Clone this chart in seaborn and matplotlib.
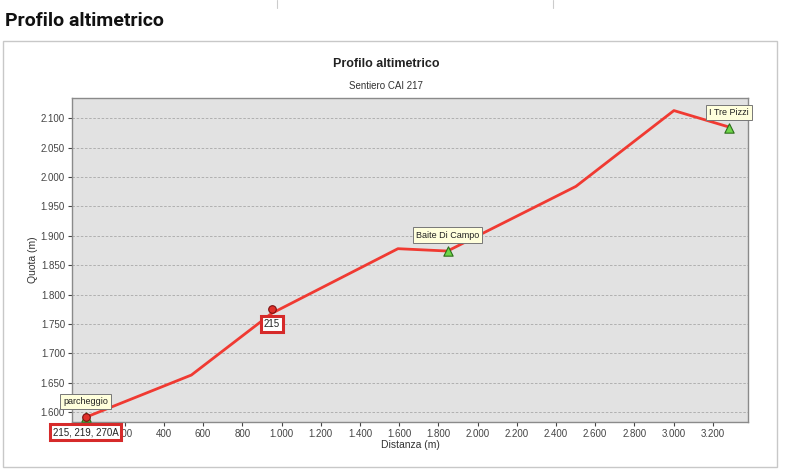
import matplotlib
matplotlib.use("Agg")
import matplotlib.pyplot as plt
import matplotlib.ticker as mticker
from matplotlib.patches import Rectangle
from matplotlib.lines import Line2D
import seaborn as sns
import pandas as pd

# profile (distance m, altitude m)
distanza = [0, 540, 950, 1594, 1720, 1847, 2502, 3002, 3283]
quota = [1591, 1663, 1768, 1878, 1876, 1874, 1984, 2113, 2085]

# waypoints along the trail
wp_nome = ['parcheggio', '215', 'Baite Di Campo', 'I Tre Pizzi']
wp_dist = [0, 950, 1847, 3283]
wp_quota = [1591, 1775, 1874, 2083]
wp_tipo = ['bivio', 'bivio', 'punto', 'punto']

# trail junction labels (shown under the marker)
bivio_label = ['215, 219, 270A', '215']

x_ticks = list(range(0, 3201, 200))
y_ticks = list(range(1600, 2101, 50))

sns.set_theme(style='white')
plt.rcParams['font.family'] = ['Liberation Sans', 'DejaVu Sans']


def thousands(v, pos=None):
    if v == 0:
        return ''  # hidden under the junction tag anyway
    return f'{int(v):,}'.replace(',', '.')


fig = plt.figure(figsize=(8, 4.7), dpi=100)

# page heading and panel frame
fig.text(0.006, 0.955, 'Profilo altimetrico', fontsize=14, fontweight='bold',
         family=['Roboto', 'DejaVu Sans'], color='#111111', va='center')
fig.patches.append(Rectangle((0.004, 0.006), 0.967, 0.906, transform=fig.transFigure,
                             fill=False, edgecolor='#c8c8c8', lw=1, zorder=-1))
for xf in (0.346, 0.691):
    fig.lines.append(Line2D([xf, xf], [0.983, 1.0], transform=fig.transFigure,
                            color='#cccccc', lw=0.8))

fig.text(0.483, 0.863, 'Profilo altimetrico', fontsize=9, fontweight='bold',
         ha='center', va='center', color='#222222')
fig.text(0.483, 0.817, 'Sentiero CAI 217', fontsize=7, ha='center', va='center',
         color='#333333')

ax = fig.add_axes([0.09, 0.102, 0.845, 0.689])
ax.set_facecolor('#e2e2e2')

df = pd.DataFrame({'Distanza': distanza, 'Quota': quota})
sns.lineplot(data=df, x='Distanza', y='Quota', color='#f03a32', lw=2, ax=ax,
             sort=False, zorder=3)

wp = pd.DataFrame({'nome': wp_nome, 'dist': wp_dist, 'quota': wp_quota, 'tipo': wp_tipo})
# green triangles (start point also has one underneath)
tri = pd.concat([wp[wp.tipo == 'punto'], wp.iloc[[0]]])
sns.scatterplot(data=tri, x='dist', y='quota', marker='^', s=45, color='#6fd64a',
                edgecolor='#2c6e1a', linewidth=0.8, ax=ax, zorder=4)
sns.scatterplot(data=wp[wp.tipo == 'bivio'], x='dist', y='quota', marker='o', s=30,
                color='#e0302a', edgecolor='#7a1010', linewidth=0.8, ax=ax, zorder=5)

# yellow name tags above
for n, xv, yv in zip(wp_nome, wp_dist, wp_quota):
    if n == '215':
        continue
    ax.annotate(n, (xv, yv), xytext=(0, 16), textcoords='offset pixels',
                ha='center', va='center', fontsize=6.5, color='#222222', zorder=6,
                bbox=dict(boxstyle='square,pad=0.35', fc='#ffffdc', ec='#777777', lw=0.7))

# red-striped junction tags below
for lab, xv, yv in zip(bivio_label, [wp_dist[0], wp_dist[1]], [wp_quota[0], wp_quota[1]]):
    ax.annotate(lab, (xv, yv), xytext=(0, -15), textcoords='offset pixels',
                ha='center', va='center', fontsize=7, color='#222222', zorder=7,
                annotation_clip=False,
                bbox=dict(boxstyle='square,pad=0.3', fc='white', ec='#d62a2a', lw=2.2))

ax.set_xlim(-69, 3380)
ax.set_ylim(1583, 2134)
ax.set_xticks(x_ticks)
ax.set_yticks(y_ticks)
ax.xaxis.set_major_formatter(mticker.FuncFormatter(thousands))
ax.yaxis.set_major_formatter(mticker.FuncFormatter(thousands))
ax.tick_params(axis='both', labelsize=7, colors='#444444', length=3, width=0.8,
               direction='out', bottom=True, left=True, pad=2)
ax.yaxis.grid(True, ls=(0, (3, 2)), color='#a8a8a8', lw=0.6)
ax.xaxis.grid(False)
ax.set_axisbelow(True)
for s in ax.spines.values():
    s.set_color('#8a8a8a')
    s.set_linewidth(1)

ax.set_xlabel('Distanza (m)', fontsize=7.5, color='#333333', labelpad=1)
ax.set_ylabel('Quota (m)', fontsize=7.5, color='#333333', labelpad=2)

fig.savefig('out.png', dpi=100)
